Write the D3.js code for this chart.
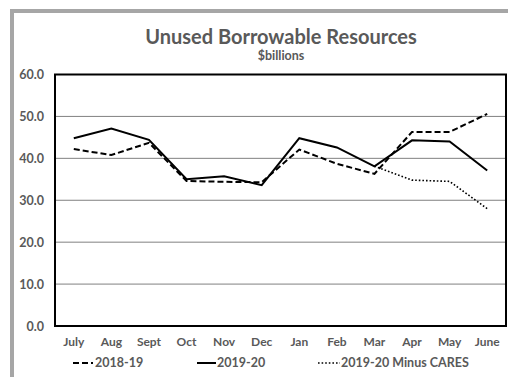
<!DOCTYPE html>
<html><head><meta charset="utf-8">
<script src="https://cdn.jsdelivr.net/npm/d3@7"></script>
<style>body{margin:0;background:#fff}svg{display:block}text{font-family:Lato,"Open Sans",sans-serif;font-weight:bold;fill:#595959}</style>
</head><body>
<script>
const months = ["July","Aug","Sept","Oct","Nov","Dec","Jan","Feb","Mar","Apr","May","June"];
const s1819 = [42.2,40.8,43.7,34.6,34.4,34.3,42.1,38.7,36.3,46.3,46.3,50.6];
const s1920 = [44.8,47.1,44.4,35.0,35.7,33.6,44.8,42.6,38.1,44.3,44.0,37.1];
const sCares = [null,null,null,null,null,null,null,null,38.1,34.8,34.5,28.0];
const yTicks = [0,10,20,30,40,50,60];
const seriesNames = ["2018-19","2019-20","2019-20 Minus CARES"];

const W=508,H=377;
const svg=d3.select("body").append("svg").attr("width",W).attr("height",H);
// outer gray border
svg.append("rect").attr("x",10).attr("y",9).attr("width",W).attr("height",4).attr("fill","#a6a6a6");
svg.append("rect").attr("x",10).attr("y",9).attr("width",4).attr("height",H).attr("fill","#a6a6a6");

const L=55,R=506,T=74.5,B=326;
const x=d3.scaleBand().domain(months).range([L,R]);
const y=d3.scaleLinear().domain([0,60]).range([B,T]);

svg.append("text").attr("x",281).attr("y",44).attr("text-anchor","middle").style("font-size","20px").text("Unused Borrowable Resources");
svg.append("text").attr("x",281).attr("y",60).attr("text-anchor","middle").style("font-size","12.5px").text("$billions");

// gridlines
svg.append("g").selectAll("line").data(yTicks.filter(d=>d>0&&d<60)).join("line")
  .attr("x1",L).attr("x2",R).attr("y1",d=>y(d)).attr("y2",d=>y(d)).attr("stroke","#808080").attr("stroke-width",1);

// y axis labels
const ya=svg.append("g").attr("transform",`translate(${L},0)`).call(d3.axisLeft(y).tickValues(yTicks).tickFormat(d3.format(".1f")).tickSize(0).tickPadding(11));
ya.select(".domain").remove();
ya.selectAll("text").style("font-size","12.5px").style("font-family","Lato,'Open Sans',sans-serif").attr("fill","#595959");

// x axis labels
const xa=svg.append("g").attr("transform",`translate(0,${B})`).call(d3.axisBottom(x).tickSize(0).tickPadding(11));
xa.select(".domain").remove();
xa.selectAll("text").style("font-size","12px").style("font-family","Lato,'Open Sans',sans-serif").attr("fill","#595959");

// frame
svg.append("rect").attr("x",L).attr("y",T).attr("width",R-L).attr("height",B-T).attr("fill","none").attr("stroke","#000").attr("stroke-width",2);

const line=d3.line().defined(d=>d!=null).x((d,i)=>x(months[i])+x.bandwidth()/2).y(d=>y(d));
svg.append("path").datum(s1819).attr("d",line).attr("fill","none").attr("stroke","#000").attr("stroke-width",2).attr("stroke-dasharray","6,3");
svg.append("path").datum(sCares).attr("d",line).attr("fill","none").attr("stroke","#000").attr("stroke-width",1.6).attr("stroke-dasharray","1.6,2");
svg.append("path").datum(s1920).attr("d",line).attr("fill","none").attr("stroke","#000").attr("stroke-width",2);

// legend
const ly=363;
const leg=[{x1:73,x2:93,dash:"6,3",w:2,tx:95,name:seriesNames[0]},{x1:197,x2:216,dash:null,w:2,tx:217,name:seriesNames[1]},{x1:318,x2:340,dash:"1.6,2",w:1.6,tx:341,name:seriesNames[2]}];
leg.forEach(l=>{
  svg.append("line").attr("x1",l.x1).attr("x2",l.x2).attr("y1",ly).attr("y2",ly).attr("stroke","#000").attr("stroke-width",l.w).attr("stroke-dasharray",l.dash);
  svg.append("text").attr("x",l.tx).attr("y",ly).attr("dy","0.35em").style("font-size","12.5px").text(l.name);
});
</script>
</body></html>
